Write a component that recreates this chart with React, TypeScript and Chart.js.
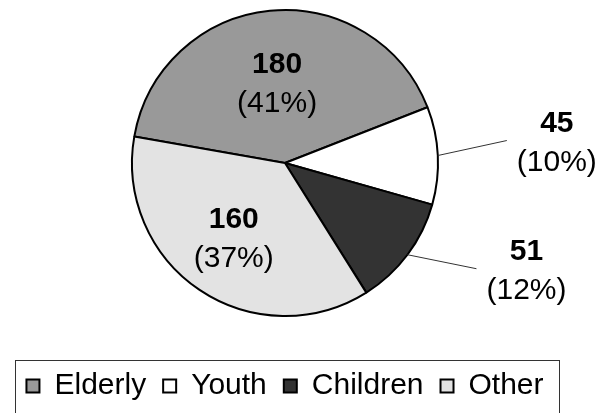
import React, { useEffect, useRef } from "react";
import { Chart, registerables } from "chart.js";

Chart.register(...registerables);

// Group sizes shown in the pie
const categories = ["Elderly", "Youth", "Children", "Other"];
const counts = [180, 45, 51, 160];
const sliceColors = ["#999999", "#ffffff", "#333333", "#e3e3e3"];

const FONT = "'Liberation Sans', Arial, sans-serif";

// Value + percentage labels; small slices get an outside label with a leader line.
const sliceLabels = {
  id: "sliceLabels",
  afterDatasetsDraw(chart: any) {
    const ctx = chart.ctx;
    const meta = chart.getDatasetMeta(0);
    const data = chart.data.datasets[0].data as number[];
    const total = data.reduce((a, b) => a + b, 0);
    const insideRadius = [0.52, 0.55, 0.55, 0.6];
    ctx.save();
    meta.data.forEach((arc: any, i: number) => {
      const { x, y, startAngle, endAngle, outerRadius } = arc.getProps(
        ["x", "y", "startAngle", "endAngle", "outerRadius"],
        true
      );
      const mid = (startAngle + endAngle) / 2;
      const share = data[i] / total;
      const numText = String(data[i]);
      const pctText = "(" + Math.round(share * 100) + "%)";
      let cx: number;
      let cy: number;
      ctx.font = `30px ${FONT}`;
      const pctW = ctx.measureText(pctText).width;
      if (share >= 0.15) {
        const d = outerRadius * insideRadius[i];
        cx = x + Math.cos(mid) * d;
        cy = y + Math.sin(mid) * d;
      } else {
        const ex = x + Math.cos(mid) * outerRadius;
        const ey = y + Math.sin(mid) * outerRadius;
        const lx = ex + 69;
        const ly = ey + (Math.sin(mid) < 0 ? -15 : 14);
        ctx.strokeStyle = "#333333";
        ctx.lineWidth = 1;
        ctx.beginPath();
        ctx.moveTo(ex, ey);
        ctx.lineTo(lx, ly);
        ctx.stroke();
        cx = lx + 10 + pctW / 2;
        cy = ly + 3;
      }
      ctx.fillStyle = "#000000";
      ctx.textAlign = "center";
      ctx.textBaseline = "middle";
      ctx.font = `bold 30px ${FONT}`;
      ctx.fillText(numText, cx, cy - 19.5);
      ctx.font = `30px ${FONT}`;
      ctx.fillText(pctText, cx, cy + 19.5);
    });
    ctx.restore();
  },
};

// Frame drawn around the legend row.
const legendFrame = {
  id: "legendFrame",
  afterDraw(chart: any) {
    const boxes = chart.legend && chart.legend.legendHitBoxes;
    if (!boxes || !boxes.length) return;
    const first = boxes[0];
    const last = boxes[boxes.length - 1];
    const ctx = chart.ctx;
    ctx.save();
    ctx.strokeStyle = "#333333";
    ctx.lineWidth = 1;
    const left = Math.round(first.left - 11) + 0.5;
    const right = Math.round(last.left + last.width + 15) + 0.5;
    const top = Math.round(first.top - 11) + 0.5;
    const bottom = Math.round(first.top + first.height + 14) + 0.5;
    ctx.strokeRect(left, top, right - left, bottom - top);
    ctx.restore();
  },
};

export default function App() {
  const canvasRef = useRef<HTMLCanvasElement | null>(null);

  useEffect(() => {
    if (!canvasRef.current) return;
    const chart = new Chart(canvasRef.current, {
      type: "pie",
      data: {
        labels: categories,
        datasets: [
          {
            data: counts,
            backgroundColor: sliceColors,
            borderColor: "#000000",
            borderWidth: 2,
          },
        ],
      },
      options: {
        responsive: false,
        animation: false,
        rotation: 280,
        layout: { padding: { top: 9, left: 2, right: 32, bottom: 2 } },
        plugins: {
          tooltip: { enabled: false },
          legend: {
            position: "bottom",
            align: "center",
            title: {
              display: true,
              text: "",
              font: { size: 10, lineHeight: 1 },
              padding: { top: 27, bottom: 0 },
            },
            labels: {
              boxWidth: 13,
              boxHeight: 13,
              padding: 17,
              color: "#000000",
              font: { family: FONT, size: 30 },
            },
          },
        },
      },
      plugins: [sliceLabels, legendFrame],
    });
    return () => chart.destroy();
  }, []);

  return (
    <div style={{ position: "absolute", left: 0, top: 0, width: 600, height: 413, background: "#ffffff" }}>
      <canvas ref={canvasRef} width={600} height={413} style={{ display: "block" }} />
    </div>
  );
}
